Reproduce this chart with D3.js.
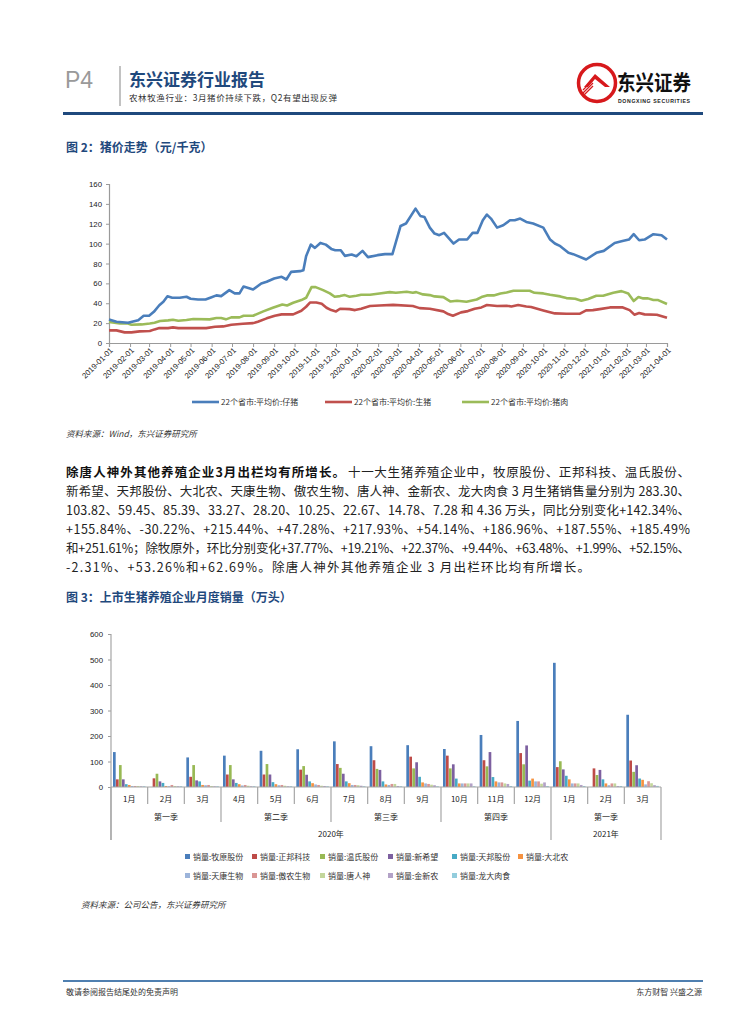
<!DOCTYPE html>
<html>
<head>
<meta charset="utf-8">
<script src="https://cdn.jsdelivr.net/npm/d3@7"></script>
<style>
body{margin:0;background:#fff}
svg text{font-family:"Noto Sans CJK SC","Liberation Sans",sans-serif}
.num{font-family:"Liberation Sans",Arial,sans-serif}
</style>
</head>
<body>
<svg id="page" width="755" height="1024"></svg>
<script>
// ---- price data (元/千克)
var pigletPrice = [["2019-01-01",23.7],["2019-01-12",21.4],["2019-01-29",20.4],["2019-02-13",23],["2019-02-21",27.4],["2019-03-01",27.4],["2019-03-08",31.4],["2019-03-16",38],["2019-03-22",41.5],["2019-03-28",47],["2019-04-04",45.5],["2019-04-15",45.5],["2019-04-25",46.5],["2019-05-01",44.5],["2019-05-12",43.8],["2019-05-23",43.8],["2019-05-31",45.8],["2019-06-08",47.9],["2019-06-15",47.2],["2019-06-27",53.2],["2019-07-05",49.9],["2019-07-12",49.9],["2019-07-18",56.9],["2019-08-01",53.9],["2019-08-13",59.9],["2019-08-21",61.6],["2019-09-01",64.9],["2019-09-12",66.6],["2019-09-19",63.9],["2019-09-26",71.6],["2019-10-09",72.3],["2019-10-14",73.3],["2019-10-18",87.4],["2019-10-25",99],["2019-10-31",95.7],["2019-11-08",100.7],["2019-11-16",99],["2019-11-24",94.7],["2019-11-30",93.4],["2019-12-08",93.4],["2019-12-14",87.7],["2019-12-24",89],["2019-12-31",87.4],["2020-01-09",92.7],["2020-01-17",86.4],["2020-01-31",88.4],["2020-02-11",89.4],["2020-02-22",89.4],["2020-03-05",117.8],["2020-03-13",120.2],["2020-03-27",135.2],["2020-04-03",127.9],["2020-04-09",126.9],["2020-04-17",116.1],["2020-04-24",110.1],["2020-05-01",108.5],["2020-05-08",110.8],["2020-05-22",100.1],["2020-05-30",104.1],["2020-06-11",104.1],["2020-06-19",110.8],["2020-06-26",110.8],["2020-07-04",123.5],["2020-07-10",129.2],["2020-07-16",125.2],["2020-07-25",116.1],["2020-08-03",118.5],["2020-08-13",123.5],["2020-08-20",123.5],["2020-08-28",125.2],["2020-09-06",121.8],["2020-09-16",120.2],["2020-10-01",116.1],["2020-10-11",104.1],["2020-10-18",100.1],["2020-10-26",97.4],["2020-11-07",90.7],["2020-11-14",89.4],["2020-12-03",84],["2020-12-18",90.7],["2020-12-29",92.7],["2021-01-14",100.7],["2021-01-24",102.4],["2021-02-04",104.1],["2021-02-11",109.5],["2021-02-19",103.4],["2021-02-27",104.1],["2021-03-12",109.5],["2021-03-24",108.5],["2021-04-01",104.1]];
var hogPrice = [["2019-01-01",12.7],["2019-01-12",12.7],["2019-01-24",10.7],["2019-02-03",10.7],["2019-02-15",11.7],["2019-03-02",12],["2019-03-09",13.7],["2019-03-16",15],["2019-03-29",15],["2019-04-05",15.7],["2019-04-13",15],["2019-05-24",15],["2019-06-06",16.4],["2019-06-18",16.7],["2019-06-30",18.4],["2019-07-17",19.4],["2019-08-01",20],["2019-08-08",21.4],["2019-08-21",24.8],["2019-09-02",27.4],["2019-09-12",28.8],["2019-09-29",28.8],["2019-10-11",32.5],["2019-10-18",36.5],["2019-10-24",40.8],["2019-11-02",40.8],["2019-11-10",39.5],["2019-11-17",35.5],["2019-11-24",33.1],["2019-12-01",31.8],["2019-12-07",34.5],["2019-12-21",34.1],["2019-12-29",33.1],["2020-01-07",34.5],["2020-01-20",37.2],["2020-02-03",37.8],["2020-02-23",38.4],["2020-03-23",37.2],["2020-04-02",35.1],["2020-04-17",34.5],["2020-05-07",31.8],["2020-05-14",29.1],["2020-05-21",27.4],["2020-06-02",30.8],["2020-06-12",32.1],["2020-06-22",34.5],["2020-07-02",35.8],["2020-07-10",38.2],["2020-07-25",37.2],["2020-08-08",37.5],["2020-08-15",36.8],["2020-08-25",38.2],["2020-09-06",36.8],["2020-09-13",36.2],["2020-10-01",32.8],["2020-10-18",29.8],["2020-11-04",29.5],["2020-11-24",29.5],["2020-12-03",32.8],["2020-12-13",33.1],["2020-12-23",34.1],["2021-01-07",35.8],["2021-01-26",35.8],["2021-02-05",33.1],["2021-02-12",28.5],["2021-02-19",30.1],["2021-02-27",28.8],["2021-03-17",28.5],["2021-04-01",25.4]];
var porkPrice = [["2019-01-01",21.1],["2019-01-17",19.7],["2019-01-29",19.7],["2019-02-03",18.4],["2019-02-18",18.7],["2019-03-02",19.7],["2019-03-09",20.4],["2019-03-17",22.1],["2019-03-29",22.8],["2019-04-05",23.4],["2019-04-13",22.4],["2019-04-25",23.1],["2019-05-05",24.1],["2019-05-29",23.8],["2019-06-08",25.1],["2019-06-15",25.1],["2019-06-22",23.8],["2019-06-30",25.8],["2019-07-12",25.8],["2019-07-18",27.4],["2019-08-01",27.4],["2019-08-16",31.8],["2019-08-30",35.5],["2019-09-13",38.8],["2019-09-20",37.8],["2019-09-29",40.5],["2019-10-11",43.2],["2019-10-18",45.5],["2019-10-26",56.2],["2019-11-01",56.2],["2019-11-12",53.2],["2019-11-22",49.9],["2019-11-29",46.5],["2019-12-07",47.2],["2019-12-14",48.2],["2019-12-21",46.5],["2019-12-31",47.5],["2020-01-07",48.5],["2020-01-20",48.5],["2020-02-03",49.9],["2020-02-18",51.2],["2020-02-27",50.5],["2020-03-14",51.5],["2020-03-23",50.5],["2020-03-28",51.2],["2020-04-07",48.9],["2020-04-17",48.2],["2020-04-24",46.9],["2020-05-07",46.2],["2020-05-17",41.8],["2020-05-27",42.5],["2020-06-10",41.5],["2020-06-25",43.8],["2020-07-02",46.2],["2020-07-10",47.9],["2020-07-20",47.9],["2020-07-30",49.9],["2020-08-08",50.9],["2020-08-18",52.6],["2020-09-11",52.6],["2020-09-18",50.5],["2020-10-01",49.9],["2020-10-11",48.5],["2020-10-26",46.9],["2020-11-04",45.2],["2020-11-17",44.5],["2020-11-26",42.5],["2020-12-06",44.2],["2020-12-18",47.5],["2020-12-28",47.5],["2021-01-12",50.5],["2021-01-24",52.2],["2021-02-03",49.9],["2021-02-11",42.2],["2021-02-18",46.2],["2021-02-25",44.9],["2021-03-04",44.9],["2021-03-12",43.2],["2021-03-19",43.2],["2021-04-01",39.2]];
var priceNames = ["22个省市:平均价:仔猪","22个省市:平均价:生猪","22个省市:平均价:猪肉"];
var priceTicks = [0,20,40,60,80,100,120,140,160];

// ---- monthly sales (万头)
var months = ["1月","2月","3月","4月","5月","6月","7月","8月","9月","10月","11月","12月","1月","2月","3月"];
var quarters = ["第一季","第二季","第三季","第四季","第一季"];
var years = ["2020年","2021年"];
var companies = ["销量:牧原股份","销量:正邦科技","销量:温氏股份","销量:新希望","销量:天邦股份","销量:大北农","销量:天康生物","销量:傲农生物","销量:唐人神","销量:金新农","销量:龙大肉食"];
var muyuan      = [137, 0, 116, 123, 142, 148, 179, 160, 164, 149, 204, 259, 487, 0, 283.30];
var zhengbang   = [30, 34, 40, 49, 49, 68, 90, 105, 119, 123, 105, 133, 78, 73, 103.82];
var wens        = [86, 52, 86, 86, 90, 82, 75, 71, 73, 73, 81, 89, 101, 47, 59.45];
var xinxiwang   = [30, 22, 26, 30, 49, 48, 52, 67, 97, 89, 137, 163, 69, 67, 85.39];
var tianbang    = [11, 16, 22, 16, 19, 22, 22, 22, 40, 33, 39, 25, 44, 30, 33.27];
var dabeinong   = [8, 4, 8, 11, 11, 15, 15, 10, 18, 14, 22, 33, 30, 14, 28.20];
var tiankang    = [4, 3, 7, 6, 7, 10, 8, 8, 14, 14, 18, 22, 14, 7, 10.25];
var aonong      = [4, 8, 8, 8, 8, 8, 8, 12, 12, 14, 18, 22, 14, 14, 22.67];
var tangrenshen = [4, 4, 4, 5, 5, 5, 7, 12, 9, 14, 14, 13, 14, 14, 14.78];
var jinxinnong  = [3, 3, 3, 3, 3, 4, 5, 4, 7, 14, 12, 18, 8, 4, 7.28];
var longda      = [3, 3, 3, 3, 3, 3, 3, 3, 3, 3, 4, 4, 4, 4, 4.36];
var salesTicks = [0,100,200,300,400,500,600];

var sales = [muyuan,zhengbang,wens,xinxiwang,tianbang,dabeinong,tiankang,aonong,tangrenshen,jinxinnong,longda];
var lineColors = ["#4A7EBB","#C0504D","#9BBB59"];
var barColors = ["#4A7EBB","#BE4B48","#98B954","#7D60A0","#46AAC5","#F69240","#9CB4DA","#DA9694","#C3D69B","#B3A2C7","#93CDDD"];
var blue = "#1F497D";

var svg = d3.select("#page");
var parse = d3.timeParse("%Y-%m-%d");

// ---------- page header
svg.append("text").attr("x",65).attr("y",88).attr("font-size",23).attr("fill","#9a9a9a")
	.attr("class","num").text("P4");
svg.append("line").attr("x1",120).attr("x2",120).attr("y1",66).attr("y2",106).attr("stroke","#999").attr("stroke-width",1.2);
svg.append("text").attr("x",129).attr("y",86).attr("font-size",17).attr("font-weight","bold").attr("fill",blue).text("东兴证券行业报告");
svg.append("text").attr("x",129).attr("y",101).attr("font-size",8.5).attr("fill","#333").attr("letter-spacing",0.6)
	.text("农林牧渔行业：3月猪价持续下跌，Q2有望出现反弹");
// logo
var logo = svg.append("g").attr("transform","translate(597,83)");
logo.append("circle").attr("r",18.5).attr("fill","none").attr("stroke","#D7191C").attr("stroke-width",3.5);
logo.append("path").attr("d","M-13,4 L-2,-9 L13,4 L8,4 L-2,-4 L-9,4 Z").attr("fill","#D7191C");
for (var s = 0; s < 3; s++) {
	logo.append("line").attr("x1",-14).attr("x2",-4).attr("y1",7+s*3).attr("y2",-3+s*3).attr("stroke","#D7191C").attr("stroke-width",1.2);
}
svg.append("text").attr("x",617).attr("y",90).attr("font-size",21).attr("font-weight","bold").attr("fill","#111")
	.attr("textLength",74).attr("lengthAdjust","spacingAndGlyphs").text("东兴证券");
svg.append("text").attr("x",618).attr("y",102.5).attr("font-size",5.2).attr("font-weight","bold").attr("fill","#222")
	.attr("class","num").attr("textLength",72).text("DONGXING SECURITIES");
svg.append("rect").attr("x",63).attr("y",112).attr("width",640).attr("height",3).attr("fill",blue);

// ---------- figure 2: prices
svg.append("text").attr("x",66).attr("y",152).attr("font-size",12).attr("font-weight","bold").attr("fill",blue).text("图 2：猪价走势（元/千克）");

var lx = d3.scaleTime().domain([parse("2019-01-01"),parse("2021-04-01")]).range([109,667]);
var ly = d3.scaleLinear().domain([0,160]).range([343,184]);
var c1 = svg.append("g");

var yAx = c1.append("g").attr("transform","translate(109,0)")
	.call(d3.axisLeft(ly).tickValues(priceTicks).tickSize(3).tickPadding(4));
var xAx = c1.append("g").attr("transform","translate(0,343)")
	.call(d3.axisBottom(lx).tickValues(d3.timeMonth.range(parse("2019-01-01"),parse("2021-04-02")))
		.tickFormat(d3.timeFormat("%Y-%m-%d")).tickSize(4).tickPadding(2));
[yAx,xAx].forEach(function(a){
	a.select(".domain").attr("stroke","#9a9a9a").attr("stroke-width",1.2);
	a.selectAll(".tick line").attr("stroke","#9a9a9a");
	a.selectAll("text").attr("font-size",7.8).attr("fill","#222").attr("class","num");
});
xAx.selectAll("text").attr("text-anchor","end").attr("dx","-0.1em").attr("dy","0.3em")
	.attr("transform","rotate(-45) translate(-2,0)");

var lineGen = d3.line().x(function(d){return lx(parse(d[0]));}).y(function(d){return ly(d[1]);});
[porkPrice,hogPrice,pigletPrice].forEach(function(series,i){
	c1.append("path").datum(series).attr("d",lineGen).attr("fill","none")
		.attr("stroke",lineColors[2-i]).attr("stroke-width",2.6).attr("stroke-linejoin","round");
});

var legX = [192,325,462];
priceNames.forEach(function(n,i){
	c1.append("line").attr("x1",legX[i]).attr("x2",legX[i]+27).attr("y1",402).attr("y2",402)
		.attr("stroke",lineColors[i]).attr("stroke-width",2.6);
	c1.append("text").attr("x",legX[i]+29).attr("y",405).attr("font-size",8).attr("fill","#333").text(n);
});
svg.append("text").attr("x",66).attr("y",437).attr("font-size",8.5).attr("font-style","italic").attr("fill","#333")
	.text("资料来源：Wind，东兴证券研究所");

// ---------- paragraph
var para = [
	"新希望、天邦股份、大北农、天康生物、傲农生物、唐人神、金新农、龙大肉食 3 月生猪销售量分别为 283.30、",
	"103.82、59.45、85.39、33.27、28.20、10.25、22.67、14.78、7.28 和 4.36 万头，同比分别变化+142.34%、",
	"+155.84%、-30.22%、+215.44%、+47.28%、+217.93%、+54.14%、+186.96%、+187.55%、+185.49%",
	"和+251.61%；除牧原外，环比分别变化+37.77%、+19.21%、+22.37%、+9.44%、+63.48%、+1.99%、+52.15%、",
	"-2.31%、+53.26%和+62.69%。除唐人神外其他养殖企业 3 月出栏环比均有所增长。"
];
var paraEnd = [690,690,690,690,590];
svg.append("text").attr("x",66).attr("y",477).attr("font-size",12.5).attr("font-weight","bold").attr("fill","#111")
	.attr("textLength",279).attr("lengthAdjust","spacing").text("除唐人神外其他养殖企业3月出栏均有所增长。");
svg.append("text").attr("x",348).attr("y",477).attr("font-size",12.5).attr("fill","#222")
	.attr("textLength",342).attr("lengthAdjust","spacing").text("十一大生猪养殖企业中，牧原股份、正邦科技、温氏股份、");
para.forEach(function(t,i){
	svg.append("text").attr("x",66).attr("y",477+19*(i+1)).attr("font-size",12.5).attr("fill","#222")
		.attr("textLength",paraEnd[i]-66).attr("lengthAdjust","spacing").text(t);
});

// ---------- figure 3: sales
svg.append("text").attr("x",66).attr("y",602).attr("font-size",12).attr("font-weight","bold").attr("fill",blue).text("图 3：上市生猪养殖企业月度销量（万头）");

var bx = d3.scaleBand().domain(d3.range(months.length)).range([111,661]).padding(0);
var inner = d3.scaleBand().domain(d3.range(companies.length)).range([2,34.5]).paddingInner(0.1);
var by = d3.scaleLinear().domain([0,600]).range([787,634]);
var c2 = svg.append("g");

var byAx = c2.append("g").attr("transform","translate(111,0)")
	.call(d3.axisLeft(by).tickValues(salesTicks).tickSize(3).tickPadding(5));
byAx.select(".domain").remove();
byAx.selectAll(".tick line").attr("stroke","#9a9a9a");
byAx.selectAll("text").attr("font-size",7.8).attr("fill","#222").attr("class","num");

sales.forEach(function(vals,k){
	c2.append("g").selectAll("rect").data(vals).enter().append("rect")
		.attr("x",function(d,i){return bx(i)+inner(k);})
		.attr("width",inner.bandwidth())
		.attr("y",function(d){return by(d);})
		.attr("height",function(d){return by(0)-by(d);})
		.attr("fill",barColors[k]);
});

// category axis: months / quarters / years
var grey = "#a6a6a6";
c2.append("line").attr("x1",111).attr("x2",661).attr("y1",787).attr("y2",787).attr("stroke",grey).attr("stroke-width",1.2);
c2.append("line").attr("x1",111).attr("x2",111).attr("y1",634).attr("y2",840).attr("stroke",grey).attr("stroke-width",1.2);
d3.range(months.length+1).forEach(function(i){
	var x = i < months.length ? bx(i) : 661;
	var bottom = (i % 3 == 0) ? ((i == 0 || i == 12 || i == 15) ? 840 : 822) : 804;
	c2.append("line").attr("x1",x).attr("x2",x).attr("y1",787).attr("y2",bottom).attr("stroke",grey).attr("stroke-width",1.2);
});
months.forEach(function(m,i){
	c2.append("text").attr("x",bx(i)+bx.bandwidth()/2).attr("y",802).attr("text-anchor","middle")
		.attr("font-size",8).attr("fill","#222").text(m);
});
quarters.forEach(function(q,i){
	c2.append("text").attr("x",bx(i*3)+bx.bandwidth()*1.5).attr("y",820).attr("text-anchor","middle")
		.attr("font-size",8).attr("fill","#222").text(q);
});
c2.append("text").attr("x",(111+bx(12))/2).attr("y",837).attr("text-anchor","middle").attr("font-size",8).attr("fill","#222").text(years[0]);
c2.append("text").attr("x",(bx(12)+661)/2).attr("y",837).attr("text-anchor","middle").attr("font-size",8).attr("fill","#222").text(years[1]);

var colX = [185,252,320,388,452,518];
companies.forEach(function(n,i){
	var x = colX[i % 6], y = i < 6 ? 857 : 876;
	c2.append("rect").attr("x",x).attr("y",y-3).attr("width",5).attr("height",5).attr("fill",barColors[i]);
	c2.append("text").attr("x",x+8).attr("y",y+2.5).attr("font-size",8).attr("fill","#333").text(n);
});
svg.append("text").attr("x",81).attr("y",908).attr("font-size",8.5).attr("font-style","italic").attr("fill","#333")
	.text("资料来源：公司公告，东兴证券研究所");

// ---------- footer
svg.append("rect").attr("x",63).attr("y",980).attr("width",640).attr("height",2).attr("fill","#4F7FB0");
svg.append("text").attr("x",66).attr("y",995).attr("font-size",8).attr("fill","#333").text("敬请参阅报告结尾处的免责声明");
svg.append("text").attr("x",702).attr("y",995).attr("text-anchor","end").attr("font-size",8).attr("fill","#333").text("东方财智 兴盛之源");
</script>
</body>
</html>
